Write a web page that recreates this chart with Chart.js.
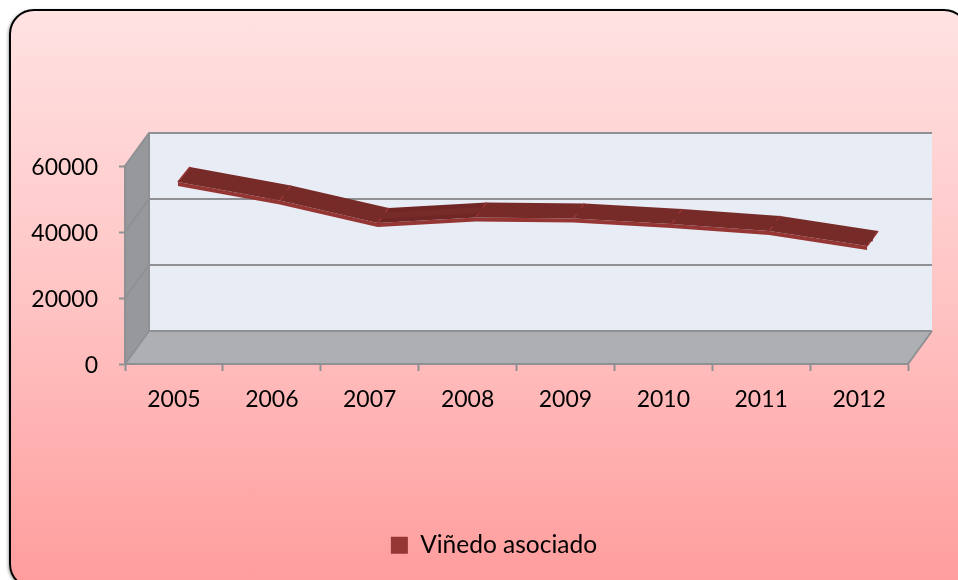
<!DOCTYPE html>
<html>
<head>
<meta charset="utf-8">
<script src="https://cdn.jsdelivr.net/npm/chart.js@4"></script>
<style>
html,body{margin:0;padding:0;background:#fff;overflow:hidden;width:958px;height:580px}
#box{position:absolute;left:9px;top:9px;width:960px;height:580px;box-sizing:border-box;border:2px solid #000;border-radius:25px;
background:linear-gradient(180deg,#ffe2e2 0%,#ffc4c4 50%,#ff9c9c 100%);box-shadow:-1px 1px 3px rgba(0,0,0,.35)}
canvas{position:absolute;left:0;top:0}
</style>
</head>
<body>
<div id="box"></div>
<canvas id="c" width="958" height="580"></canvas>
<script>
const categories = ["2005","2006","2007","2008","2009","2010","2011","2012"];
const seriesName = "Viñedo asociado";
const seriesValues = [52400,46800,40000,41700,41400,39700,37600,33000];
const axisMax = 60000;
const axisStep = 20000;

const FONT = "Lato, Carlito, sans-serif";
const DEPTH_X = 24, DEPTH_Y = -33;
const EDGE = "#8e9093";

const walls = {
  id: "walls",
  afterLayout(chart) {
    // centre the legend under the whole plot, not under the padded box
    chart.legend.left += 40;
    chart.legend.right += 40;
  },
  beforeDraw(chart) {
    const {ctx, chartArea: a, scales: {y}} = chart;
    const poly = (pts, fill) => {
      ctx.beginPath();
      pts.forEach((p, i) => i ? ctx.lineTo(p[0], p[1]) : ctx.moveTo(p[0], p[1]));
      ctx.closePath();
      ctx.fillStyle = fill;
      ctx.fill();
    };
    ctx.save();
    poly([[a.left + DEPTH_X, a.top + DEPTH_Y], [a.right + DEPTH_X, a.top + DEPTH_Y],
          [a.right + DEPTH_X, a.bottom + DEPTH_Y], [a.left + DEPTH_X, a.bottom + DEPTH_Y]], "#e8ecf5");
    poly([[a.left, a.top], [a.left + DEPTH_X, a.top + DEPTH_Y],
          [a.left + DEPTH_X, a.bottom + DEPTH_Y], [a.left, a.bottom]], "#96989b");
    poly([[a.left, a.bottom], [a.left + DEPTH_X, a.bottom + DEPTH_Y],
          [a.right + DEPTH_X, a.bottom + DEPTH_Y], [a.right, a.bottom]], "#adafb2");
    ctx.strokeStyle = EDGE;
    ctx.lineWidth = 2;
    y.ticks.forEach(t => {
      const py = y.getPixelForValue(t.value);
      ctx.beginPath();
      ctx.moveTo(a.left, py);
      ctx.lineTo(a.left + DEPTH_X, py + DEPTH_Y);
      ctx.lineTo(a.right + DEPTH_X, py + DEPTH_Y);
      ctx.stroke();
    });
    ctx.beginPath();
    ctx.moveTo(a.left + DEPTH_X, a.top + DEPTH_Y);
    ctx.lineTo(a.left + DEPTH_X, a.bottom + DEPTH_Y);
    ctx.moveTo(a.right + DEPTH_X, a.bottom + DEPTH_Y);
    ctx.lineTo(a.right, a.bottom);
    ctx.stroke();
    ctx.restore();
  },
  beforeDatasetDraw(chart, args) {
    const {ctx} = chart;
    const pts = chart.getDatasetMeta(args.index).data;
    const last = pts.length - 1;
    // ribbon depth edges, taken from the library's own point positions
    const front = pts.map((p, i) => [p.x + (i === 0 ? 4 : 8), p.y - 9]);
    const back  = pts.map((p, i) => [p.x + (i === 0 ? 16 : 19), p.y - 24]);
    const THICK = 4;
    ctx.save();
    // front thin strip
    ctx.beginPath();
    front.forEach((f, i) => i ? ctx.lineTo(f[0], f[1]) : ctx.moveTo(f[0], f[1]));
    for (let i = last; i >= 0; i--) ctx.lineTo(front[i][0], front[i][1] + THICK);
    ctx.closePath();
    ctx.fillStyle = "#953634";
    ctx.fill();
    // top faces
    for (let i = 0; i < last; i++) {
      ctx.beginPath();
      ctx.moveTo(front[i][0], front[i][1]);
      ctx.lineTo(back[i][0], back[i][1]);
      ctx.lineTo(back[i + 1][0], back[i + 1][1]);
      ctx.lineTo(front[i + 1][0], front[i + 1][1]);
      ctx.closePath();
      ctx.fillStyle = pts[i + 1].y < pts[i].y ? "#6f2624" : "#772b28";
      ctx.fill();
    }
    // joints and end cap
    ctx.strokeStyle = "#953634";
    ctx.lineWidth = 1.5;
    for (let i = 0; i <= last; i++) {
      ctx.beginPath();
      ctx.moveTo(front[i][0], front[i][1]);
      ctx.lineTo(back[i][0], back[i][1]);
      ctx.stroke();
    }
    ctx.restore();
    // native line runs down the middle of the ribbon
    ctx.save();
    ctx.translate(14, -16.5);
  },
  afterDatasetDraw(chart) {
    chart.ctx.restore();
  }
};

new Chart(document.getElementById("c"), {
  type: "line",
  data: {
    labels: categories,
    datasets: [{
      label: seriesName,
      data: seriesValues,
      borderColor: "#772b28",
      backgroundColor: "#953735",
      borderWidth: 6,
      pointRadius: 0,
      tension: 0,
      clip: false
    }]
  },
  plugins: [walls],
  options: {
    responsive: false,
    animation: false,
    devicePixelRatio: 1,
    layout: {padding: {left: 0, right: 50, top: 166, bottom: 12.5}},
    plugins: {
      tooltip: {enabled: false},
      title: {display: false},
      legend: {
        display: true,
        position: "bottom",
        labels: {
          boxWidth: 17,
          boxHeight: 17,
          padding: 10,
          color: "#000",
          font: {family: FONT, size: 24.5},
          generateLabels: chart => Chart.defaults.plugins.legend.labels.generateLabels(chart)
            .map(l => ({...l, lineWidth: 0, strokeStyle: "transparent"}))
        }
      }
    },
    scales: {
      x: {
        offset: true,
        afterFit(s) { s.height = 159; },
        grid: {
          offset: true,
          drawOnChartArea: false,
          drawTicks: true,
          tickLength: 7,
          tickWidth: 2,
          tickColor: EDGE
        },
        border: {display: true, color: EDGE, width: 2},
        ticks: {
          color: "#000",
          padding: 15,
          maxRotation: 0,
          font: {family: FONT, size: 23}
        }
      },
      y: {
        min: 0,
        max: axisMax,
        afterFit(s) { s.width = 125; },
        grid: {
          drawOnChartArea: false,
          drawTicks: true,
          tickLength: 6,
          tickWidth: 2,
          tickColor: EDGE
        },
        border: {display: true, color: EDGE, width: 2},
        ticks: {
          stepSize: axisStep,
          color: "#000",
          padding: 21,
          labelOffset: 2,
          callback: v => String(v),
          font: {family: FONT, size: 23}
        }
      }
    }
  }
});
</script>
</body>
</html>
